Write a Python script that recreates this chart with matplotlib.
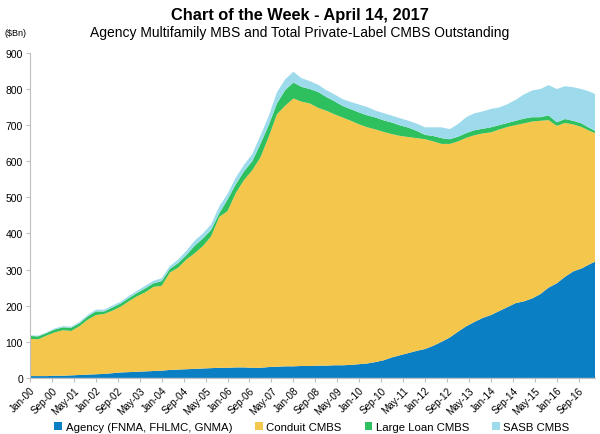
import matplotlib.pyplot as plt

plt.rcParams['font.family'] = ['Liberation Sans', 'DejaVu Sans']

# months since Jan-2000, quarterly readings plus the last month (Mar-17)
months = list(range(0, 205, 3)) + [206]

agency = [5, 5, 5, 6, 6, 7, 8, 9, 10, 11, 13, 15, 16, 17, 18, 19, 20, 22, 23, 24,
          25, 26, 27, 28, 28, 29, 29, 28, 28, 30, 31, 32, 32, 33, 33, 34, 34, 35, 35, 36,
          38, 40, 44, 49, 57, 63, 69, 75, 80, 89, 100, 112, 128, 143, 155, 166, 174, 185, 196, 207,
          212, 220, 232, 250, 262, 280, 295, 303, 315, 322]
conduit = [103, 102, 112, 120, 126, 123, 135, 152, 164, 166, 173, 182, 196, 209, 219, 233, 235, 270, 282, 304,
           320, 339, 365, 418, 434, 483, 519, 547, 583, 638, 699, 722, 742, 732, 727, 714, 706, 695, 686, 676,
           664, 654, 644, 632, 618, 607, 598, 589, 581, 566, 548, 536, 527, 522, 517, 511, 506, 503, 499, 493,
           493, 490, 480, 464, 436, 426, 407, 392, 369, 356]
large_loan = [8, 8, 7, 8, 8, 9, 8, 9, 10, 7, 9, 9, 9, 9, 11, 10, 13, 10, 13, 12,
              21, 21, 18, 10, 32, 24, 24, 25, 37, 32, 30, 43, 44, 41, 40, 44, 38, 36, 32, 32,
              33, 33, 33, 32, 32, 29, 26, 20, 12, 15, 16, 13, 13, 13, 14, 13, 14, 12, 11, 12,
              13, 12, 10, 13, 10, 11, 10, 10, 8, 6]
sasb = [2, 2, 2, 3, 3, 3, 4, 4, 5, 5, 5, 5, 6, 6, 7, 7, 8, 8, 10, 12,
        14, 14, 15, 19, 16, 19, 18, 20, 23, 25, 31, 30, 30, 24, 22, 20, 19, 19, 19, 20,
        22, 23, 19, 20, 19, 20, 19, 20, 21, 24, 30, 28, 35, 44, 47, 48, 51, 49, 52, 58,
        67, 74, 78, 84, 92, 91, 93, 95, 101, 102]

tick_labels = ["Jan-00", "Sep-00", "May-01", "Jan-02", "Sep-02", "May-03", "Jan-04",
               "Sep-04", "May-05", "Jan-06", "Sep-06", "May-07", "Jan-08", "Sep-08",
               "May-09", "Jan-10", "Sep-10", "May-11", "Jan-12", "Sep-12", "May-13",
               "Jan-14", "Sep-14", "May-15", "Jan-16", "Sep-16"]

names = ["Agency (FNMA, FHLMC, GNMA)", "Conduit CMBS", "Large Loan CMBS", "SASB CMBS"]
colors = ["#0A7FC4", "#F4C64B", "#2EBF5E", "#9DDBEC"]

fig = plt.figure(figsize=(6, 4.35), dpi=100)
ax = fig.add_axes([0.05, 0.129, 0.942, 0.747])

ax.stackplot(months, agency, conduit, large_loan, sasb, colors=colors, labels=names,
             linewidth=0)

ax.set_xlim(0, 206)
ax.set_ylim(0, 900)
ax.set_yticks(range(0, 901, 100))
ax.set_xticks(range(0, 201, 8))
ax.set_xticklabels(tick_labels, rotation=45, ha='right', rotation_mode='anchor')
ax.tick_params(axis='x', labelsize=7.2, length=3, color='#BFBFBF', pad=2)
ax.tick_params(axis='y', labelsize=7.5, length=3, color='#BFBFBF', pad=2)

for side in ['top', 'right']:
    ax.spines[side].set_visible(False)
for side in ['left', 'bottom']:
    ax.spines[side].set_color('#BFBFBF')

fig.text(0.5, 0.965, "Chart of the Week - April 14, 2017", ha='center', va='center',
         fontsize=11.8, fontweight='bold')
fig.text(0.5, 0.923, "Agency Multifamily MBS and Total Private-Label CMBS Outstanding",
         ha='center', va='center', fontsize=10)
fig.text(0.008, 0.922, "($Bn)", ha='left', va='center', fontsize=6.5)

fig.legend(loc='lower center', bbox_to_anchor=(0.52, -0.02), ncol=4, frameon=False,
           fontsize=8.2, handlelength=0.7, handleheight=0.7, handletextpad=0.3,
           columnspacing=2.0)

fig.savefig("out.png", dpi=100)
